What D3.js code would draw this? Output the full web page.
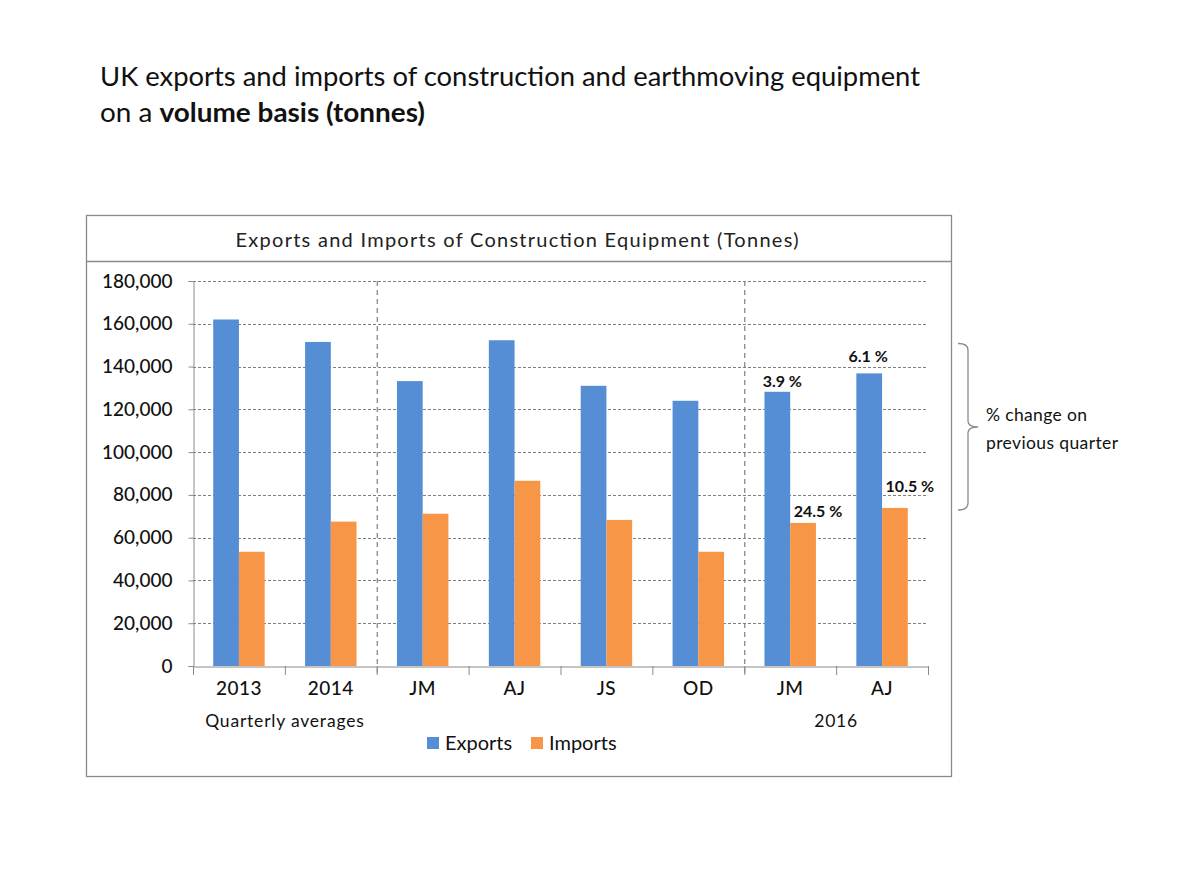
<!DOCTYPE html>
<html>
<head>
<meta charset="utf-8">
<script src="https://cdn.jsdelivr.net/npm/d3@7/dist/d3.min.js"></script>
<style>
  html, body { margin: 0; padding: 0; background: #fff; }
  svg { display: block; font-family: Lato, "Open Sans", sans-serif; }
</style>
</head>
<body>
<svg id="chart" width="1181" height="886"></svg>
<script>
// ---- data ----
const categories = ["2013", "2014", "JM", "AJ", "JS", "OD", "JM", "AJ"];
const seriesNames = ["Exports", "Imports"];
const exportsValues = [162000, 151500, 133200, 152300, 131000, 124000, 128200, 136800];
const importsValues = [53400, 67500, 71200, 86600, 68300, 53400, 66900, 73900];
const yTicks = [0, 20000, 40000, 60000, 80000, 100000, 120000, 140000, 160000, 180000];
const groupLabels = [
  { text: "Quarterly averages", from: 0, to: 2 },
  { text: "2016", from: 6, to: 8 }
];
const dividers = [2, 6];
const pctLabels = [
  { index: 6, series: "Exports", text: "3.9 %" },
  { index: 7, series: "Exports", text: "6.1 %" },
  { index: 6, series: "Imports", text: "24.5 %" },
  { index: 7, series: "Imports", text: "10.5 %" }
];
// label placement offsets (style only)
const pctOffsets = [[5, -5], [-1, -11], [15, -6], [15, -16]];
const colors = { Exports: "#558ED5", Imports: "#F79646" };

// ---- drawing ----
const svg = d3.select("#chart");
const values = { Exports: exportsValues, Imports: importsValues };

// page title
svg.append("text").attr("x", 100).attr("y", 86)
  .attr("font-size", 27.5).attr("fill", "#111")
  .attr("textLength", 820).attr("lengthAdjust", "spacingAndGlyphs")
  .text("UK exports and imports of construction and earthmoving equipment");
const t2 = svg.append("text").attr("x", 100).attr("y", 122)
  .attr("font-size", 27.5).attr("fill", "#111")
  .attr("textLength", 325).attr("lengthAdjust", "spacingAndGlyphs");
t2.append("tspan").text("on a ");
t2.append("tspan").attr("font-weight", "bold").text("volume basis (tonnes)");

// frames
svg.append("rect").attr("x", 86.5).attr("y", 215.5).attr("width", 865).attr("height", 561)
  .attr("fill", "none").attr("stroke", "#8a8a8a").attr("stroke-width", 1.3);
svg.append("line").attr("x1", 86.5).attr("x2", 951.5).attr("y1", 261.5).attr("y2", 261.5)
  .attr("stroke", "#8a8a8a").attr("stroke-width", 1.3);

svg.append("text").attr("x", 517).attr("y", 246.5).attr("text-anchor", "middle")
  .attr("font-size", 20).attr("fill", "#222")
  .attr("textLength", 563).attr("lengthAdjust", "spacing")
  .text("Exports and Imports of Construction Equipment (Tonnes)");

// scales
const x = d3.scaleBand().domain(d3.range(categories.length)).range([193, 928]).padding(0);
const xs = d3.scaleBand().domain(seriesNames).range([x.bandwidth() * 0.22, x.bandwidth() * 0.78]).padding(0);
const y = d3.scaleLinear().domain([0, 180000]).range([666, 281]);

// gridlines
svg.append("g").selectAll("line").data(yTicks.filter(d => d > 0)).join("line")
  .attr("x1", 193).attr("x2", 928)
  .attr("y1", d => Math.round(y(d)) + 0.5).attr("y2", d => Math.round(y(d)) + 0.5)
  .attr("stroke", "#7f7f7f").attr("stroke-width", 1).attr("stroke-dasharray", "3,2");

// y axis
const yAxis = d3.axisLeft(y).tickValues(yTicks).tickSize(5).tickPadding(16)
  .tickFormat(d3.format(","));
const gy = svg.append("g").attr("transform", "translate(193.5,0)").call(yAxis);
gy.select(".domain").attr("stroke", "#8a8a8a");
gy.selectAll(".tick line").attr("stroke", "#8a8a8a");
gy.selectAll(".tick text").attr("font-size", 19).attr("fill", "#111")
  .attr("font-family", "Lato, sans-serif").attr("font-weight", 500);

// dividers
svg.append("g").selectAll("line").data(dividers).join("line")
  .attr("x1", d => x(d) + 0.5).attr("x2", d => x(d) + 0.5)
  .attr("y1", 281).attr("y2", 677)
  .attr("stroke", "#7f7f7f").attr("stroke-width", 1.2).attr("stroke-dasharray", "5,4");

// bars
const groups = svg.append("g").selectAll("g").data(categories.map((c, i) => i)).join("g")
  .attr("transform", i => `translate(${x(i)},0)`);
groups.selectAll("rect").data(i => seriesNames.map(s => ({ s, v: values[s][i] }))).join("rect")
  .attr("x", d => xs(d.s)).attr("width", xs.bandwidth())
  .attr("y", d => y(d.v)).attr("height", d => y(0) - y(d.v))
  .attr("fill", d => colors[d.s]);

// x axis
const xAxis = d3.axisBottom(x).tickSize(0).tickPadding(15).tickFormat(i => categories[i]);
const gx = svg.append("g").attr("transform", "translate(0,666.5)").call(xAxis);
gx.select(".domain").attr("stroke", "#8a8a8a");
gx.selectAll(".tick text").attr("font-size", 19).attr("fill", "#111")
  .attr("font-family", "Lato, sans-serif").attr("font-weight", 500)
  .attr("letter-spacing", 0.5);
// boundary ticks
svg.append("g").selectAll("line").data(d3.range(categories.length + 1)).join("line")
  .attr("x1", i => (i < categories.length ? x(i) : x.range()[1]) + 0.5)
  .attr("x2", i => (i < categories.length ? x(i) : x.range()[1]) + 0.5)
  .attr("y1", 666).attr("y2", 675)
  .attr("stroke", "#8a8a8a");

// group labels
svg.append("g").selectAll("text").data(groupLabels).join("text")
  .attr("x", d => (x(d.from) + (d.to < categories.length ? x(d.to) : x.range()[1])) / 2)
  .attr("y", 727).attr("text-anchor", "middle")
  .attr("font-size", 17.5).attr("fill", "#111").attr("letter-spacing", 0.8)
  .text(d => d.text);

// pct labels
svg.append("g").selectAll("text").data(pctLabels).join("text")
  .attr("x", (d, i) => x(d.index) + xs(d.series) + xs.bandwidth() / 2 + pctOffsets[i][0])
  .attr("y", (d, i) => y(values[d.series][d.index]) + pctOffsets[i][1])
  .attr("text-anchor", "middle").attr("font-size", 16).attr("font-weight", "bold").attr("fill", "#111")
  .text(d => d.text);

// legend
const legend = svg.append("g");
const legendItems = [{ s: "Exports", x: 427 }, { s: "Imports", x: 531 }];
legend.selectAll("rect").data(legendItems).join("rect")
  .attr("x", d => d.x).attr("y", 737).attr("width", 12).attr("height", 12)
  .attr("fill", d => colors[d.s]);
legend.selectAll("text").data(legendItems).join("text")
  .attr("x", d => d.x + 18).attr("y", 750).attr("font-size", 20).attr("fill", "#111")
  .text(d => d.s);

// bracket
const br = d3.path();
br.moveTo(958, 343.5);
br.quadraticCurveTo(968, 343.5, 968, 350);
br.lineTo(968, 421);
br.quadraticCurveTo(968, 427, 978, 427);
br.quadraticCurveTo(968, 427, 968, 433);
br.lineTo(968, 503);
br.quadraticCurveTo(968, 510, 958, 510);
svg.append("path").attr("d", br.toString()).attr("fill", "none")
  .attr("stroke", "#8a8a8a").attr("stroke-width", 1.3);

svg.append("text").attr("x", 986).attr("y", 421).attr("font-size", 17.5).attr("fill", "#111")
  .attr("textLength", 101).attr("lengthAdjust", "spacing")
  .text("% change on");
svg.append("text").attr("x", 986).attr("y", 449).attr("font-size", 17.5).attr("fill", "#111")
  .attr("textLength", 132).attr("lengthAdjust", "spacing")
  .text("previous quarter");
</script>
</body>
</html>
